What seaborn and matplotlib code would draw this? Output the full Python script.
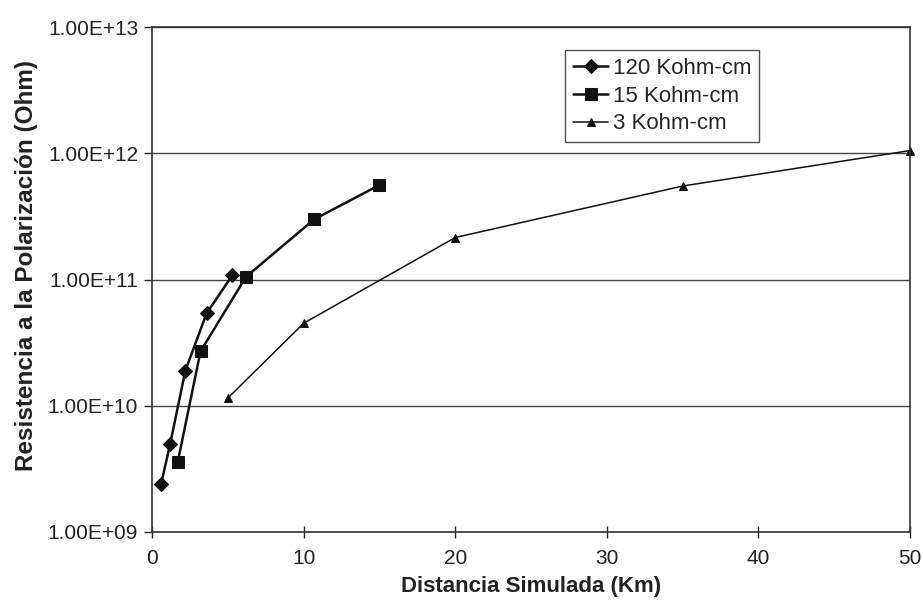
import numpy as np
import pandas as pd
import matplotlib
matplotlib.use("Agg")
import matplotlib.pyplot as plt
from matplotlib.ticker import FuncFormatter, FixedLocator
import seaborn as sns

# data
dist_120 = [0.6, 1.2, 2.2, 3.6, 5.3]
rp_120 = [2.4e9, 5.0e9, 1.9e10, 5.4e10, 1.08e11]

dist_15 = [1.7, 3.2, 6.2, 10.7, 15.0]
rp_15 = [3.6e9, 2.7e10, 1.05e11, 3.0e11, 5.6e11]

dist_3 = [5.0, 10.0, 20.0, 35.0, 50.0]
rp_3 = [1.15e10, 4.5e10, 2.15e11, 5.5e11, 1.05e12]

labels = ["120 Kohm-cm", "15 Kohm-cm", "3 Kohm-cm"]
y_ticks = [1e9, 1e10, 1e11, 1e12, 1e13]

sns.set_style("white")
plt.rcParams['font.family'] = ['Liberation Sans', 'DejaVu Sans']

fig = plt.figure(figsize=(9.23, 6.11), dpi=100)
ax = fig.add_axes([0.1647, 0.1293, 0.8213, 0.8265])

series = [
    (dist_120, rp_120, labels[0], 'D', 7, 1.8),
    (dist_15, rp_15, labels[1], 's', 9, 1.8),
    (dist_3, rp_3, labels[2], '^', 6, 1.1),
]
for xs, ys, lab, mk, ms, lw in series:
    df = pd.DataFrame({'x': xs, 'y': ys})
    sns.lineplot(data=df, x='x', y='y', ax=ax, color='#111111', marker=mk,
                 markersize=ms, linewidth=lw, markeredgecolor='#111111',
                 label=lab, sort=False, clip_on=False)

ax.set_yscale('log')
ax.set_ylim(1e9, 1e13)
ax.set_xlim(0, 50)
ax.yaxis.set_major_locator(FixedLocator(y_ticks))
ax.yaxis.set_minor_locator(FixedLocator([]))
ax.yaxis.set_major_formatter(FuncFormatter(lambda v, p: f"1.00E+{int(round(np.log10(v))):02d}"))
ax.set_xticks([0, 10, 20, 30, 40, 50])

ax.grid(axis='y', color='#444444', linewidth=1)
ax.grid(axis='x', visible=False)
for s in ax.spines.values():
    s.set_color('#333333')
    s.set_linewidth(1.2)

ax.tick_params(axis='y', direction='out', length=6, width=1, left=True,
               labelsize=15, pad=4, labelcolor='#222222')
ax.tick_params(axis='x', direction='inout', length=8, width=1, bottom=True,
               labelsize=15, pad=8, labelcolor='#222222')

ax.set_xlabel('Distancia Simulada (Km)', fontsize=16, fontweight='bold',
              labelpad=6, color='#222222')
ax.set_ylabel('Resistencia a la Polarización (Ohm)', fontsize=17.5, fontweight='bold',
              color='#222222')
ax.yaxis.set_label_coords(-0.150, 0.527)

leg = ax.legend(loc='upper left', bbox_to_anchor=(0.545, 0.954), frameon=True,
                fancybox=False, edgecolor='#222222', fontsize=16,
                handlelength=1.6, handletextpad=0.2, borderpad=0.35,
                labelspacing=0.3, borderaxespad=0)
leg.get_frame().set_linewidth(1)

fig.savefig('out.png', dpi=100)
